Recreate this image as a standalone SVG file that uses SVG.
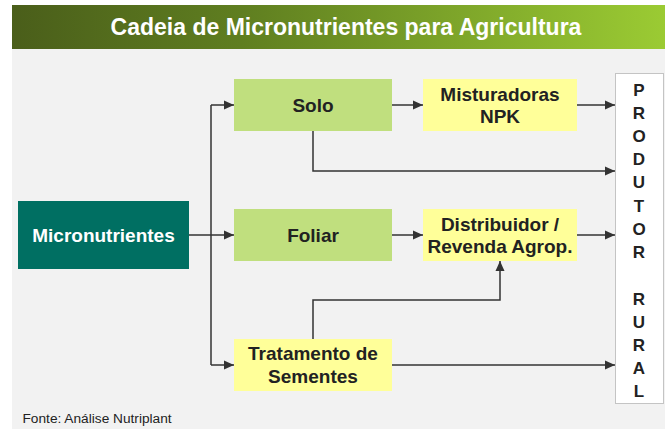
<svg xmlns="http://www.w3.org/2000/svg" width="665" height="429" viewBox="0 0 665 429">
<defs>
<linearGradient id="banner" x1="0" y1="0" x2="1" y2="0">
<stop offset="0" stop-color="#4a5e1a"/>
<stop offset="0.35" stop-color="#5f7e20"/>
<stop offset="1" stop-color="#9bcb33"/>
</linearGradient>
<marker id="arr" viewBox="0 0 10 10" refX="10" refY="5" markerWidth="10" markerHeight="10" markerUnits="userSpaceOnUse" orient="auto">
<path d="M0,0.5 L10,5 L0,9.5 Z" fill="#333333"/>
</marker>
<style>
.lbl{font-family:"Liberation Sans",Arial,sans-serif;font-weight:bold;font-size:19px;fill:#222222;text-anchor:middle}
.green{fill:#c0df7e}
.yellow{fill:#ffff99}
.conn{fill:none;stroke:#333333;stroke-width:1.5}
.pl{font-family:"Liberation Sans",Arial,sans-serif;font-weight:bold;font-size:17px;fill:#222222;text-anchor:middle}
</style>
</defs>
<rect x="0" y="0" width="665" height="429" fill="#ffffff"/>
<rect x="12" y="49" width="653" height="380" fill="#f2f2f2"/>
<rect x="12" y="5" width="653" height="44" fill="url(#banner)"/>
<text x="346" y="35" font-family="'Liberation Sans',Arial,sans-serif" font-weight="bold" font-size="23" fill="#ffffff" text-anchor="middle">Cadeia de Micronutrientes para Agricultura</text>

<g id="connectors">
<line class="conn" x1="211" y1="105" x2="211" y2="365"/>
<line class="conn" x1="189" y1="235" x2="234" y2="235" marker-end="url(#arr)"/>
<line class="conn" x1="211" y1="105" x2="234" y2="105" marker-end="url(#arr)"/>
<line class="conn" x1="211" y1="365" x2="234" y2="365" marker-end="url(#arr)"/>
<line class="conn" x1="392" y1="105" x2="423" y2="105" marker-end="url(#arr)"/>
<line class="conn" x1="577" y1="105" x2="615" y2="105" marker-end="url(#arr)"/>
<polyline class="conn" points="313,131 313,171 615,171" marker-end="url(#arr)"/>
<line class="conn" x1="392" y1="235" x2="423" y2="235" marker-end="url(#arr)"/>
<line class="conn" x1="577" y1="235" x2="615" y2="235" marker-end="url(#arr)"/>
<polyline class="conn" points="313,339 313,300 500,300 500,261" marker-end="url(#arr)"/>
<line class="conn" x1="392" y1="365" x2="615" y2="365" marker-end="url(#arr)"/>
</g>

<g id="micronutrientes">
<rect x="18" y="201" width="171" height="68" fill="#006f62"/>
<text x="103.5" y="242" font-family="'Liberation Sans',Arial,sans-serif" font-weight="bold" font-size="19" fill="#ffffff" text-anchor="middle">Micronutrientes</text>
</g>
<g id="solo">
<rect class="green" x="234" y="79" width="158" height="52"/>
<text class="lbl" x="313" y="112">Solo</text>
</g>
<g id="foliar">
<rect class="green" x="234" y="209" width="158" height="52"/>
<text class="lbl" x="313" y="242">Foliar</text>
</g>
<g id="tratamento">
<rect class="yellow" x="234" y="339" width="158" height="52"/>
<text class="lbl" x="313" y="360">Tratamento de</text>
<text class="lbl" x="313" y="383">Sementes</text>
</g>
<g id="misturadoras">
<rect class="yellow" x="423" y="79" width="154" height="52"/>
<text class="lbl" x="500" y="101">Misturadoras</text>
<text class="lbl" x="500" y="123">NPK</text>
</g>
<g id="distribuidor">
<rect class="yellow" x="423" y="209" width="154" height="52"/>
<text class="lbl" x="500" y="231">Distribuidor /</text>
<text class="lbl" x="500" y="253">Revenda Agrop.</text>
</g>
<g id="produtor">
<rect x="615.5" y="73.5" width="48" height="330" fill="#ffffff" stroke="#c4c4c4" stroke-width="1"/>
<text class="pl" x="639" y="96">P</text>
<text class="pl" x="639" y="119">R</text>
<text class="pl" x="639" y="142">O</text>
<text class="pl" x="639" y="165">D</text>
<text class="pl" x="639" y="188">U</text>
<text class="pl" x="639" y="212">T</text>
<text class="pl" x="639" y="235">O</text>
<text class="pl" x="639" y="258">R</text>
<text class="pl" x="639" y="305">R</text>
<text class="pl" x="639" y="328">U</text>
<text class="pl" x="639" y="351">R</text>
<text class="pl" x="639" y="374">A</text>
<text class="pl" x="639" y="397">L</text>
</g>
<text x="22.5" y="423" font-family="'Liberation Sans',Arial,sans-serif" font-size="13.7" fill="#222222">Fonte: Análise Nutriplant</text>
</svg>
